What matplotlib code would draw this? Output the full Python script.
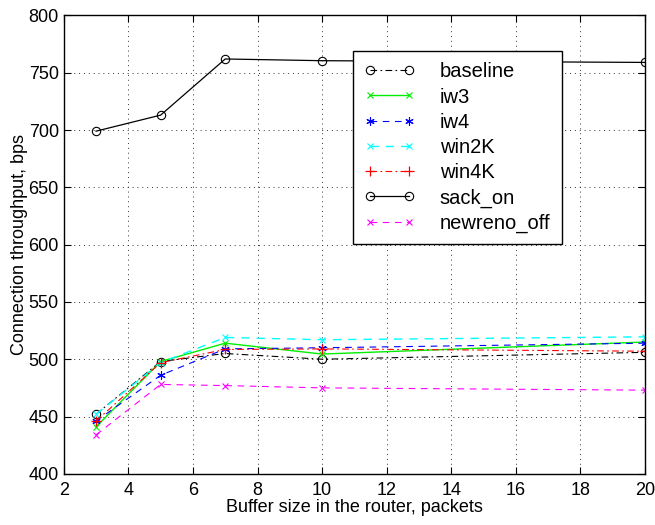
import matplotlib
matplotlib.use("Agg")
import matplotlib.pyplot as plt

plt.rcParams["font.family"] = ["Liberation Sans", "DejaVu Sans"]

buffer_sizes = [3, 5, 7, 10, 20]

baseline = [452, 498, 505, 500, 506]
iw3 = [441, 498, 514, 504.5, 515]
iw4 = [446, 486, 509, 510, 514]
win2k = [452, 497, 519, 517, 519.5]
win4k = [446, 497, 508.5, 509, 507]
sack_on = [699, 713, 762, 760.5, 759]
newreno_off = [434, 478, 477, 475, 473]

x_ticks = [2, 4, 6, 8, 10, 12, 14, 16, 18, 20]
y_ticks = [400, 450, 500, 550, 600, 650, 700, 750, 800]

fig = plt.figure(figsize=(6.55, 5.25), dpi=100)
ax = fig.add_axes([0.0973, 0.0975, 0.8875, 0.8731])

ms = 6
dash = (0, (6, 5))
dashdot = (0, (6, 3, 1.5, 3))
ax.plot(buffer_sizes, baseline, color="black", linestyle=dashdot, linewidth=0.8,
        marker="o", markerfacecolor="none", markersize=ms, markeredgewidth=0.8, label="baseline")
ax.plot(buffer_sizes, iw3, color="#00ee00", linestyle="-", linewidth=1.0,
        marker="x", markersize=5, markeredgewidth=0.8, label="iw3")
ax.plot(buffer_sizes, iw4, color="blue", linestyle=dash, linewidth=0.8,
        marker=(6, 2, 0), markersize=ms, markeredgewidth=0.8, label="iw4")
ax.plot(buffer_sizes, win2k, color="cyan", linestyle=dash, linewidth=1.0,
        marker="x", markersize=5, markeredgewidth=0.8, label="win2K")
ax.plot(buffer_sizes, win4k, color="red", linestyle=dashdot, linewidth=0.8,
        marker="+", markersize=ms + 1, markeredgewidth=0.9, label="win4K")
ax.plot(buffer_sizes, sack_on, color="black", linestyle="-", linewidth=0.9,
        marker="o", markerfacecolor="none", markersize=ms, markeredgewidth=0.8, label="sack_on")
ax.plot(buffer_sizes, newreno_off, color="magenta", linestyle=dash, linewidth=0.8,
        marker="x", markersize=5, markeredgewidth=0.8, label="newreno_off")

ax.set_xlim(2, 20)
ax.set_ylim(400, 800)
ax.set_xticks(x_ticks)
ax.set_yticks(y_ticks)
ax.tick_params(direction="in", length=5, labelsize=13, top=True, right=True, width=0.8)
ax.tick_params(axis="x", pad=6)
ax.grid(True, linestyle=(0, (1, 4)), color="#333333", linewidth=0.7)
for spine in ax.spines.values():
    spine.set_linewidth(1.0)

ax.set_xlabel("Buffer size in the router, packets", fontsize=13, labelpad=0)
ax.set_ylabel("Connection throughput, bps", fontsize=13, labelpad=0)

leg = ax.legend(loc="upper left", bbox_to_anchor=(0.498, 0.922),
                numpoints=2, fontsize=14.5, handlelength=2.5, handletextpad=1.25,
                borderaxespad=0, fancybox=False, framealpha=1, edgecolor="black",
                labelspacing=0.31, borderpad=0.55)
leg.get_frame().set_linewidth(1.0)

fig.savefig("out.png", dpi=100)
